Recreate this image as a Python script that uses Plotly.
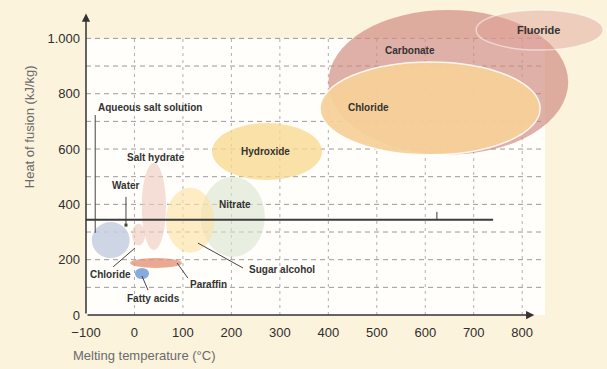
import plotly.graph_objects as go

# ---- data -------------------------------------------------------------
# Material classes: melting-temperature span (°C) and heat-of-fusion span (kJ/kg)
classes = ["Carbonate", "Fluoride", "Chloride", "Hydroxide", "Nitrate",
           "Sugar alcohol", "Salt hydrate", "Salt hydrate", "Chloride",
           "Paraffin", "Fatty acids"]
t_lo = [400, 705, 383, 160, 137, 65, 15, -5, -88, -9, 1]
t_hi = [895, 967, 837, 387, 269, 165, 65, 22, -10, 98, 30]
h_lo = [580, 958, 579, 488, 210, 225, 235, 252, 206, 170, 130]
h_hi = [1103, 1103, 915, 694, 500, 460, 550, 330, 336, 206, 170]

# Label text and where it sits (°C, kJ/kg)
label_text = ["Fluoride", "Carbonate", "Chloride", "Hydroxide", "Nitrate",
              "Salt hydrate", "Water", "Aqueous salt solution", "Chloride",
              "Fatty acids", "Paraffin", "Sugar alcohol"]
label_t = [833, 568, 482, 271, 207, 44, -17, 32, -50, 40, 152, 304]
label_h = [1031, 958, 749, 590, 401, 571, 470, 752, 148, 58, 112, 163]

# Leader lines from labels to their regions
leader_t0 = [-81, -17.5, -44, 28, 110, 224]
leader_h0 = [723, 427, 174, 90, 134, 170]
leader_t1 = [-81, -17.5, 1, 15.5, 88, 131]
leader_h1 = [297, 325, 242, 141, 188, 260]

# Reference level line and its marker tick
ref_h = 344
ref_t = [-100, 740]
ref_tick_t = 624
ref_tick_h = 373

x_ticks = [-100, 0, 100, 200, 300, 400, 500, 600, 700, 800]
x_tick_text = ["\u2212100", "0", "100", "200", "300", "400", "500", "600", "700", "800"]
y_ticks = [0, 100, 200, 300, 400, 500, 600, 700, 800, 900, 1000]
y_tick_text = ["0", "", "200", "", "400", "", "600", "", "800", "", "1.000"]

# ---- styles -----------------------------------------------------------
fills = [
    "rgba(208,138,128,0.68)",   # carbonate
    "rgba(224,160,150,0.45)",   # fluoride
    "rgba(246,208,152,0.93)",   # chloride (high)
    "rgba(248,216,145,0.78)",   # hydroxide
    "rgba(218,228,206,0.60)",   # nitrate
    "rgba(252,226,168,0.65)",   # sugar alcohol
    "rgba(240,204,194,0.65)",   # salt hydrate
    "rgba(240,204,194,0.65)",   # salt hydrate
    "rgba(198,206,224,0.85)",   # chloride (low)
    "rgba(230,145,118,0.78)",   # paraffin
    "rgba(112,158,212,0.85)",   # fatty acids
]
outlines = ["rgba(0,0,0,0)"] * len(fills)
outlines[2] = "rgba(255,255,255,0.85)"
outlines[1] = "rgba(255,255,255,0.5)"

FONT = "Liberation Sans, Arial, sans-serif"
T_MAX = 975
H_MAX = 1128
GRID_T_END = 840

fig = go.Figure()

shapes = []
# white panel behind the grid
shapes.append(dict(type="rect", xref="x", yref="y", x0=-100, x1=847, y0=0, y1=1000,
                   fillcolor="#fffefa", line=dict(width=0), layer="below"))
# dashed grid
for h in y_ticks[1:]:
    shapes.append(dict(type="line", xref="x", yref="y", x0=-100, x1=GRID_T_END, y0=h, y1=h,
                       line=dict(color="#9a9a9a", width=1, dash="5px,4px"), layer="below"))
for t in x_ticks[1:]:
    shapes.append(dict(type="line", xref="x", yref="y", x0=t, x1=t, y0=0, y1=1000,
                       line=dict(color="#b0b0b0", width=1, dash="3px,4px"), layer="below"))
# material regions
for i in range(len(classes)):
    shapes.append(dict(type="circle", xref="x", yref="y",
                       x0=t_lo[i], x1=t_hi[i], y0=h_lo[i], y1=h_hi[i],
                       fillcolor=fills[i], line=dict(color=outlines[i], width=1.5),
                       layer="below"))

# leader lines
for i in range(len(leader_t0)):
    fig.add_trace(go.Scatter(x=[leader_t0[i], leader_t1[i]], y=[leader_h0[i], leader_h1[i]],
                             mode="lines", line=dict(color="#444444", width=1),
                             hoverinfo="skip", showlegend=False))
# dot at the end of the water leader
fig.add_trace(go.Scatter(x=[leader_t1[1]], y=[leader_h1[1]], mode="markers",
                         marker=dict(color="#444444", size=3, symbol="square"),
                         hoverinfo="skip", showlegend=False))
# reference level line
fig.add_trace(go.Scatter(x=ref_t, y=[ref_h, ref_h], mode="lines",
                         line=dict(color="#3c3c3c", width=2),
                         hoverinfo="skip", showlegend=False))
fig.add_trace(go.Scatter(x=[ref_tick_t, ref_tick_t], y=[ref_h, ref_tick_h], mode="lines",
                         line=dict(color="#3c3c3c", width=1),
                         hoverinfo="skip", showlegend=False))

annotations = []
for i, txt in enumerate(label_text):
    size = 11 if txt == "Fluoride" else 10
    annotations.append(dict(x=label_t[i], y=label_h[i], xref="x", yref="y",
                            text="<b>" + txt + "</b>",
                            showarrow=False, font=dict(family=FONT, size=size, color="#333333"),
                            xanchor="center", yanchor="middle"))

# axes with arrow heads
annotations.append(dict(x=825, y=0, ax=-100, ay=0, xref="x", yref="y", axref="x", ayref="y",
                        text="", showarrow=True, arrowhead=2, arrowsize=1.1, arrowwidth=1.5,
                        arrowcolor="#333333"))
annotations.append(dict(x=-100, y=1090, ax=-100, ay=0, xref="x", yref="y", axref="x", ayref="y",
                        text="", showarrow=True, arrowhead=2, arrowsize=1.1, arrowwidth=1.5,
                        arrowcolor="#333333"))

# axis titles
annotations.append(dict(x=-0.107, y=0.6026, xref="paper", yref="paper",
                        text="Heat of fusion (kJ/kg)", textangle=-90, showarrow=False,
                        font=dict(family=FONT, size=13, color="#6a6a6a"),
                        xanchor="center", yanchor="middle"))
annotations.append(dict(x=-0.028, y=-0.131, xref="paper", yref="paper",
                        text="Melting temperature (°C)", showarrow=False,
                        font=dict(family=FONT, size=13, color="#6a6a6a"),
                        xanchor="left", yanchor="middle"))

fig.update_layout(
    width=607, height=369, autosize=False,
    margin=dict(l=86, r=0, t=3, b=54),
    paper_bgcolor="#fcf3dd", plot_bgcolor="#fcf3dd",
    shapes=shapes, annotations=annotations, showlegend=False,
    xaxis=dict(range=[-100, T_MAX], tickvals=x_ticks, ticktext=x_tick_text,
               showgrid=False, zeroline=False, showline=False, ticks="",
               ticklabelstandoff=8, tickfont=dict(family=FONT, size=13, color="#2e2e2e"),
               fixedrange=True),
    yaxis=dict(range=[0, H_MAX], tickvals=y_ticks, ticktext=y_tick_text,
               showgrid=False, zeroline=False, showline=False, ticks="",
               ticklabelstandoff=5, tickfont=dict(family=FONT, size=13, color="#2e2e2e"),
               fixedrange=True),
)

fig.write_html("out.html")
